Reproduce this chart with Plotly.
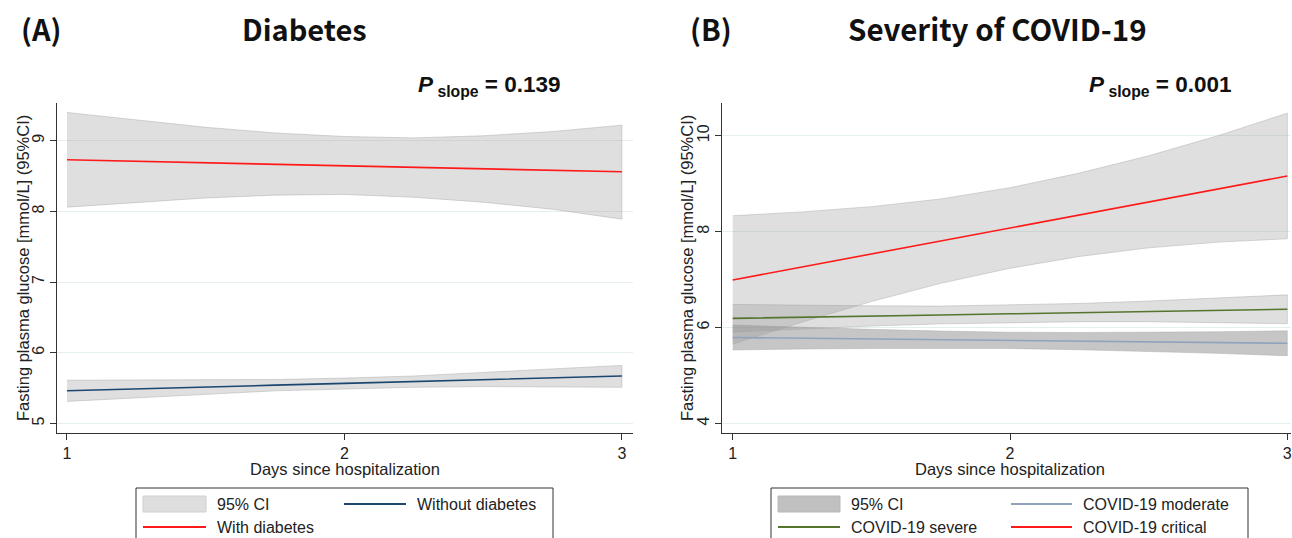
import plotly.graph_objects as go

W, H = 1292, 538

days = [1, 1.25, 1.5, 1.75, 2, 2.25, 2.5, 2.75, 3]

# Panel A: Diabetes
with_diab = [8.73, 8.71, 8.69, 8.67, 8.645, 8.62, 8.60, 8.58, 8.56]
with_diab_hi = [9.40, 9.29, 9.19, 9.11, 9.06, 9.04, 9.07, 9.13, 9.22]
with_diab_lo = [8.06, 8.13, 8.19, 8.23, 8.24, 8.20, 8.13, 8.03, 7.89]
without_diab = [5.46, 5.49, 5.51, 5.54, 5.565, 5.59, 5.62, 5.64, 5.67]
without_diab_hi = [5.61, 5.61, 5.61, 5.62, 5.64, 5.67, 5.72, 5.77, 5.82]
without_diab_lo = [5.31, 5.36, 5.41, 5.46, 5.49, 5.51, 5.52, 5.52, 5.51]

# Panel B: Severity of COVID-19
moderate = [5.79, 5.775, 5.76, 5.745, 5.73, 5.715, 5.70, 5.685, 5.67]
moderate_hi = [6.05, 6.00, 5.96, 5.925, 5.90, 5.895, 5.90, 5.91, 5.93]
moderate_lo = [5.53, 5.55, 5.56, 5.565, 5.56, 5.535, 5.50, 5.46, 5.41]
severe = [6.19, 6.21, 6.24, 6.26, 6.285, 6.31, 6.33, 6.36, 6.38]
severe_hi = [6.48, 6.46, 6.45, 6.445, 6.465, 6.50, 6.55, 6.61, 6.68]
severe_lo = [5.90, 5.96, 6.03, 6.075, 6.105, 6.12, 6.12, 6.10, 6.08]
critical = [6.99, 7.26, 7.53, 7.80, 8.075, 8.35, 8.62, 8.89, 9.16]
critical_hi = [8.33, 8.41, 8.52, 8.68, 8.915, 9.22, 9.58, 10.00, 10.47]
critical_lo = [5.65, 6.11, 6.54, 6.92, 7.235, 7.48, 7.66, 7.78, 7.85]

yticks_a = [5, 6, 7, 8, 9]
yticks_b = [4, 6, 8, 10]
xticks = [1, 2, 3]

legend_a = ["95% CI", "Without diabetes", "With diabetes"]
legend_b = ["95% CI", "COVID-19 moderate", "COVID-19 severe", "COVID-19 critical"]

RED = "#ff1a1a"
NAVY = "#1a476f"
GREEN = "#55752f"
MOD = "#8fa4bc"
BAND_FILL = "rgba(150,150,150,0.30)"
BAND_FILL_DARK = "rgba(120,120,120,0.42)"
BAND_LINE = "rgba(170,170,170,0.6)"
FONT = "Liberation Sans, Arial, sans-serif"
TITLE_FONT = "Noto Sans CJK SC, Noto Sans, sans-serif"

fig = go.Figure()


def band(x, lo, hi, xa, ya, name, fill=BAND_FILL):
    fig.add_trace(go.Scatter(
        x=list(x) + list(x)[::-1], y=list(hi) + list(lo)[::-1],
        fill="toself", fillcolor=fill, line=dict(color=BAND_LINE, width=0.8),
        mode="lines", name=name, showlegend=False,
        xaxis=xa, yaxis=ya, hoverinfo="skip"))


def line(x, y, color, xa, ya, name, width=1.6):
    fig.add_trace(go.Scatter(
        x=x, y=y, mode="lines", line=dict(color=color, width=width),
        name=name, showlegend=False, xaxis=xa, yaxis=ya))


band(days, with_diab_lo, with_diab_hi, "x", "y", "95% CI")
band(days, without_diab_lo, without_diab_hi, "x", "y", "95% CI")
line(days, without_diab, NAVY, "x", "y", legend_a[1])
line(days, with_diab, RED, "x", "y", legend_a[2])

band(days, moderate_lo, moderate_hi, "x2", "y2", "95% CI", BAND_FILL_DARK)
band(days, severe_lo, severe_hi, "x2", "y2", "95% CI")
band(days, critical_lo, critical_hi, "x2", "y2", "95% CI")
line(days, moderate, MOD, "x2", "y2", legend_b[1])
line(days, severe, GREEN, "x2", "y2", legend_b[2])
line(days, critical, RED, "x2", "y2", legend_b[3])


def px_x(p):
    return p / W


def px_y(p):
    return 1 - p / H


axis_common = dict(showline=True, linecolor="#333333", linewidth=1, ticks="outside",
                   ticklen=6, tickcolor="#333333",
                   tickfont=dict(family=FONT, size=16, color="#222"),
                   zeroline=False, fixedrange=True)

fig.update_layout(
    width=W, height=H, margin=dict(l=0, r=0, t=0, b=0),
    paper_bgcolor="white", plot_bgcolor="white", showlegend=False,
    xaxis=dict(domain=[px_x(57), px_x(633)], range=[0.964, 3.04], tickvals=xticks,
               showgrid=False, anchor="y", **axis_common),
    yaxis=dict(domain=[px_y(433), px_y(103)], range=[4.863, 9.534], tickvals=yticks_a,
               showgrid=True, gridcolor="#e6efef", gridwidth=1, tickangle=-90,
               anchor="x", **axis_common),
    xaxis2=dict(domain=[px_x(722), px_x(1291)], range=[0.9614, 3.0133], tickvals=xticks,
                showgrid=False, anchor="y2", **axis_common),
    yaxis2=dict(domain=[px_y(433), px_y(103)], range=[3.798, 10.682], tickvals=yticks_b,
                showgrid=True, gridcolor="#e6efef", gridwidth=1, tickangle=-90,
                anchor="x2", **axis_common),
)

annotations = [
    dict(text="<b>(A)</b>", x=px_x(19), y=px_y(28), xanchor="left", yanchor="middle",
         font=dict(family=TITLE_FONT, size=29, color="#111")),
    dict(text="<b>Diabetes</b>", x=px_x(304), y=px_y(28), xanchor="center", yanchor="middle",
         font=dict(family=TITLE_FONT, size=29, color="#111")),
    dict(text="<b>(B)</b>", x=px_x(688), y=px_y(28), xanchor="left", yanchor="middle",
         font=dict(family=TITLE_FONT, size=29, color="#111")),
    dict(text="<b>Severity of COVID-19</b>", x=px_x(997), y=px_y(28), xanchor="center",
         yanchor="middle", font=dict(family=TITLE_FONT, size=29.5, color="#111")),
    dict(text="<b><i>P</i></b><sub><b> slope</b></sub><b> = 0.139</b>", x=px_x(416), y=px_y(86),
         xanchor="left", yanchor="middle", font=dict(family=FONT, size=22.5, color="#111")),
    dict(text="<b><i>P</i></b><sub><b> slope</b></sub><b> = 0.001</b>", x=px_x(1087), y=px_y(86),
         xanchor="left", yanchor="middle", font=dict(family=FONT, size=22.5, color="#111")),
    dict(text="Fasting plasma glucose [mmol/L] (95%CI)", x=px_x(23), y=px_y(268),
         textangle=-90, xanchor="center", yanchor="middle",
         font=dict(family=FONT, size=16.5, color="#222")),
    dict(text="Fasting plasma glucose [mmol/L] (95%CI)", x=px_x(687), y=px_y(268),
         textangle=-90, xanchor="center", yanchor="middle",
         font=dict(family=FONT, size=16.5, color="#222")),
    dict(text="Days since hospitalization", x=px_x(345), y=px_y(469), xanchor="center",
         yanchor="middle", font=dict(family=FONT, size=16.5, color="#222")),
    dict(text="Days since hospitalization", x=px_x(1010), y=px_y(469), xanchor="center",
         yanchor="middle", font=dict(family=FONT, size=16.5, color="#222")),
]

shapes = []


def leg_box(x0, x1, y0, y1):
    shapes.append(dict(type="rect", xref="paper", yref="paper", x0=px_x(x0), x1=px_x(x1),
                       y0=px_y(y1), y1=px_y(y0), line=dict(color="#333333", width=1),
                       fillcolor="rgba(0,0,0,0)"))


def leg_swatch(x0, x1, yc, fill, border):
    shapes.append(dict(type="rect", xref="paper", yref="paper", x0=px_x(x0), x1=px_x(x1),
                       y0=px_y(yc + 8), y1=px_y(yc - 8), line=dict(color=border, width=1),
                       fillcolor=fill))


def leg_line(x0, x1, yc, color):
    shapes.append(dict(type="line", xref="paper", yref="paper", x0=px_x(x0), x1=px_x(x1),
                       y0=px_y(yc), y1=px_y(yc), line=dict(color=color, width=1.8)))


def leg_text(x, yc, text):
    annotations.append(dict(text=text, x=px_x(x), y=px_y(yc), xanchor="left",
                            yanchor="middle", font=dict(family=FONT, size=16, color="#222")))


# Legend A
leg_box(136, 553, 488, 545)
leg_swatch(143, 206, 504, "#dedede", "#d0d0d0")
leg_text(215, 504, legend_a[0])
leg_line(344, 406, 504, NAVY)
leg_text(415, 504, legend_a[1])
leg_line(143, 206, 527, RED)
leg_text(215, 527, legend_a[2])

# Legend B
leg_box(771, 1248, 488, 545)
leg_swatch(778, 840, 504, "#c0c0c0", "#b8b8b8")
leg_text(849, 504, legend_b[0])
leg_line(1011, 1072, 504, MOD)
leg_text(1081, 504, legend_b[1])
leg_line(778, 840, 527, GREEN)
leg_text(849, 527, legend_b[2])
leg_line(1011, 1072, 527, RED)
leg_text(1081, 527, legend_b[3])

for a in annotations:
    a.update(xref="paper", yref="paper", showarrow=False)
fig.update_layout(annotations=annotations, shapes=shapes)

fig.write_html("out.html", config={"displayModeBar": False},
               post_script="document.body.style.margin='0';")
